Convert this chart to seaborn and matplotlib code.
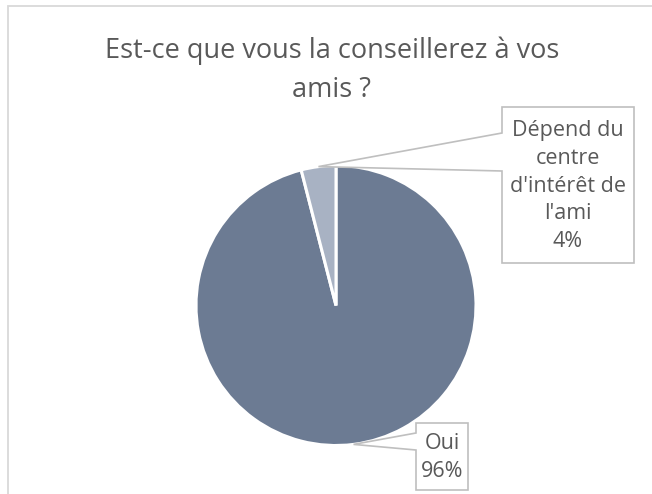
import numpy as np
import matplotlib
matplotlib.use("Agg")
import matplotlib.pyplot as plt
import seaborn as sns
from matplotlib.patches import Polygon, Rectangle

# Données du graphique
reponses = ["Oui", "Dépend du\ncentre\nd'intérêt de\nl'ami"]
pourcentages = [96, 4]
couleurs = ["#6C7B93", "#A8B2C3"]
titre = ["Est-ce que vous la conseillerez à vos", "amis ?"]

sns.set_theme(style="white")
plt.rcParams['font.family'] = ['Open Sans', 'DejaVu Sans']
gris_texte = "#595959"
gris_bord = "#BFBFBF"

W, H, R = 652, 494, 140.0
cx, cy = 336, 305.5  # centre du camembert en pixels

fig = plt.figure(figsize=(W / 100, H / 100), dpi=100)
ax = fig.add_axes([0, 0, 1, 1])

def px(x, y):
    # pixels de l'image -> unités du camembert
    return ((x - cx) / R, (cy - y) / R)

wedges, _ = ax.pie(pourcentages, colors=couleurs, startangle=90, counterclock=False,
                   radius=1, center=(0, 0), frame=True,
                   wedgeprops=dict(edgecolor="white", linewidth=2.2))
ax.set_xlim(-cx / R, (W - cx) / R)
ax.set_ylim((cy - H) / R, cy / R)
ax.set_aspect("equal")
ax.axis("off")

# cadre du graphique
fig.patches.append(Rectangle((8 / W, -0.2), 2, (H - 6.5) / H + 0.2, transform=fig.transFigure,
                             fill=False, edgecolor="#D9D9D9", linewidth=1.3))

# titre
fig.text(332 / W, 1 - 58 / H, titre[0], ha="center", va="baseline", fontsize=19.5, color=gris_texte)
fig.text(332 / W, 1 - 97 / H, titre[1], ha="center", va="baseline", fontsize=19.5, color=gris_texte)

# bulles d'étiquettes (boîte en pixels: gauche, haut, droite, bas, encoche haut, encoche bas)
boites = [
    (416, 423, 468, 490, 433, 450),
    (502, 107, 634, 263, 133, 171),
]
for w, nom, pct, (l, t, r, b, n1, n2) in zip(wedges, reponses, pourcentages, boites):
    ang = np.deg2rad((w.theta1 + w.theta2) / 2)
    pointe = (np.cos(ang), np.sin(ang))
    pts = [px(l, t), px(r, t), px(r, b), px(l, b), px(l, n2), pointe, px(l, n1)]
    ax.add_patch(Polygon(pts, closed=True, facecolor="white", edgecolor=gris_bord,
                         linewidth=1.2, clip_on=False, zorder=3))
    tx, ty = px((l + r) / 2, (t + b) / 2 + 1)
    ax.text(tx, ty, f"{nom}\n{pct}%", ha="center", va="center", fontsize=15.5,
            color=gris_texte, linespacing=1.42, zorder=4)

fig.savefig("out.png", dpi=100)
